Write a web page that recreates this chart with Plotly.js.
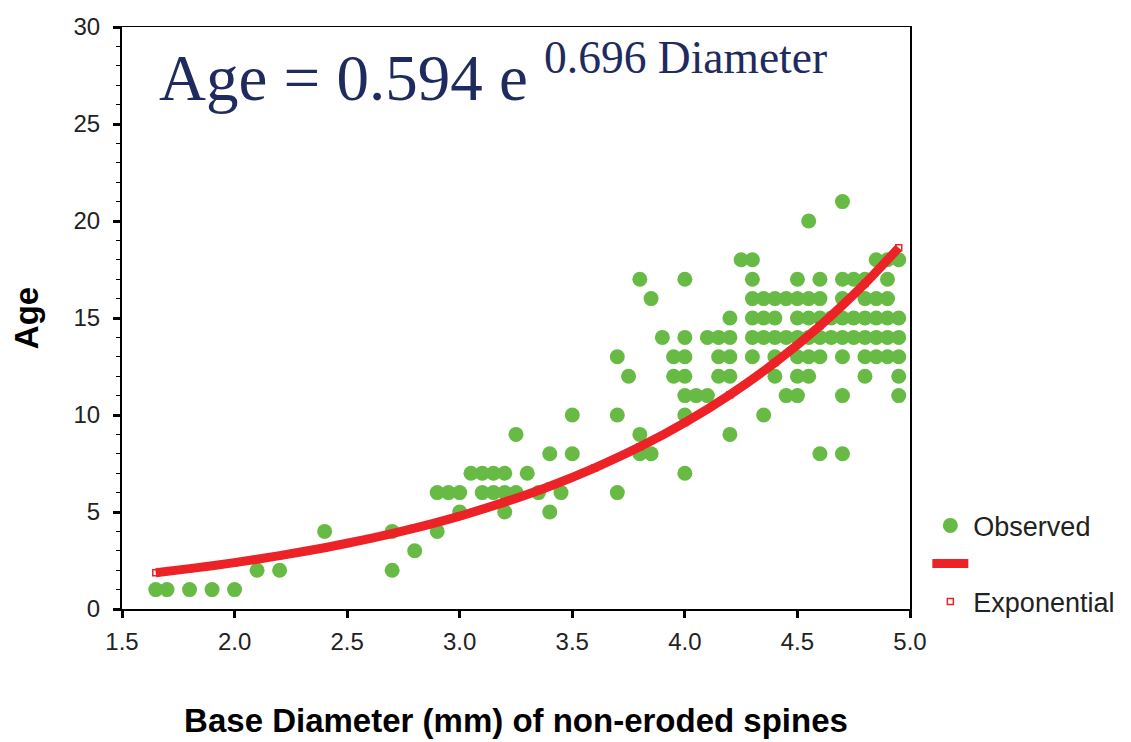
<!DOCTYPE html>
<html>
<head>
<meta charset="utf-8">
<script src="https://cdn.plot.ly/plotly-3.0.1.min.js"></script>
<style>
html,body{margin:0;padding:0;background:#ffffff;}
#chart{width:1131px;height:742px;}
</style>
</head>
<body>
<div id="chart"></div>
<script>
// Observed points: base diameter (mm) and age, listed row by row (by age)
const obsDiameter = [
  1.65, 1.70, 1.80, 1.90, 2.00,
  2.10, 2.20, 2.70,
  2.80,
  2.40, 2.70, 2.90,
  3.00, 3.20, 3.40,
  2.90, 2.95, 3.00, 3.10, 3.15, 3.20, 3.25, 3.35, 3.45, 3.70,
  3.05, 3.10, 3.15, 3.20, 3.30, 4.00,
  3.40, 3.50, 3.80, 3.85, 4.60, 4.70,
  3.25, 3.80, 4.20,
  3.50, 3.70, 4.00, 4.35,
  4.00, 4.05, 4.10, 4.45, 4.50, 4.70, 4.95,
  3.75, 3.95, 4.00, 4.15, 4.20, 4.40, 4.50, 4.55, 4.80, 4.95,
  3.70, 3.95, 4.00, 4.15, 4.20, 4.30, 4.40, 4.50, 4.55, 4.60, 4.70, 4.80, 4.85, 4.90, 4.95,
  3.90, 4.00, 4.10, 4.15, 4.20, 4.30, 4.35, 4.40, 4.45, 4.50, 4.55, 4.60, 4.65, 4.70, 4.75, 4.80, 4.85, 4.90, 4.95,
  4.20, 4.30, 4.35, 4.40, 4.50, 4.55, 4.60, 4.65, 4.70, 4.75, 4.80, 4.85, 4.90, 4.95,
  3.85, 4.30, 4.35, 4.40, 4.45, 4.50, 4.55, 4.60, 4.70, 4.80, 4.85, 4.90,
  3.80, 4.00, 4.30, 4.50, 4.60, 4.70, 4.75, 4.80, 4.90,
  4.25, 4.30, 4.85, 4.90, 4.95,
  4.55,
  4.70
];
const obsAge = [
  1, 1, 1, 1, 1,
  2, 2, 2,
  3,
  4, 4, 4,
  5, 5, 5,
  6, 6, 6, 6, 6, 6, 6, 6, 6, 6,
  7, 7, 7, 7, 7, 7,
  8, 8, 8, 8, 8, 8,
  9, 9, 9,
  10, 10, 10, 10,
  11, 11, 11, 11, 11, 11, 11,
  12, 12, 12, 12, 12, 12, 12, 12, 12, 12,
  13, 13, 13, 13, 13, 13, 13, 13, 13, 13, 13, 13, 13, 13, 13,
  14, 14, 14, 14, 14, 14, 14, 14, 14, 14, 14, 14, 14, 14, 14, 14, 14, 14, 14,
  15, 15, 15, 15, 15, 15, 15, 15, 15, 15, 15, 15, 15, 15,
  16, 16, 16, 16, 16, 16, 16, 16, 16, 16, 16, 16,
  17, 17, 17, 17, 17, 17, 17, 17, 17,
  18, 18, 18, 18, 18,
  20,
  21
];

// Fitted exponential curve
const fitDiameter = [1.65, 1.80, 2.00, 2.20, 2.40, 2.60, 2.80, 3.00, 3.20, 3.40, 3.60, 3.80, 4.00, 4.20, 4.40, 4.60, 4.80, 4.95];
const fitAge      = [1.87, 2.08, 2.39, 2.75, 3.16, 3.63, 4.17, 4.79, 5.51, 6.33, 7.28, 8.36, 9.61, 11.05, 12.70, 14.60, 16.78, 18.62];

// Axis ticks
const xTicks = [1.5, 2.0, 2.5, 3.0, 3.5, 4.0, 4.5, 5.0];
const xTickLabels = ['1.5', '2.0', '2.5', '3.0', '3.5', '4.0', '4.5', '5.0'];
const yTicks = [0, 5, 10, 15, 20, 25, 30];
const yTickLabels = ['0', '5', '10', '15', '20', '25', '30'];

const seriesNames = ['Observed', ' ', 'Exponential'];
const equationText = 'Age = 0.594 e <sup>0.696 Diameter</sup>';
const xTitle = 'Base Diameter (mm) of non-eroded spines';
const yTitle = 'Age';

const GREEN = '#67bb45';
const RED = '#ec2227';
const SANS = '"Liberation Sans", Arial, sans-serif';

const traces = [
  {
    type: 'scatter', mode: 'markers', name: seriesNames[0],
    x: obsDiameter, y: obsAge,
    marker: {color: GREEN, size: 15, line: {width: 0}},
    legendrank: 1, cliponaxis: false
  },
  {
    type: 'scatter', mode: 'markers', name: seriesNames[2],
    x: fitDiameter, y: fitAge,
    marker: {symbol: 'square-open', color: RED, size: 6, line: {width: 1.5, color: RED}},
    legendrank: 3
  },
  {
    type: 'scatter', mode: 'lines', name: seriesNames[1],
    x: fitDiameter, y: fitAge,
    line: {color: RED, width: 9, shape: 'spline', smoothing: 0.6},
    legendrank: 2
  }
];

const layout = {
  width: 1131, height: 742,
  margin: {l: 122, r: 221, t: 27, b: 133, autoexpand: false},
  paper_bgcolor: '#ffffff', plot_bgcolor: '#ffffff',
  font: {family: SANS, color: '#222222'},
  showlegend: true,
  legend: {
    x: 1.022, xanchor: 'left', y: 0.185, yanchor: 'top',
    font: {family: SANS, size: 27, color: '#222222'},
    bgcolor: 'rgba(0,0,0,0)', borderwidth: 0,
    tracegroupgap: 0, itemwidth: 36
  },
  xaxis: {
    range: [1.5, 5.0], tickvals: xTicks, ticktext: xTickLabels,
    showgrid: false, zeroline: false,
    showline: true, linecolor: '#000000', linewidth: 1.5, mirror: true,
    ticks: 'outside', ticklen: 7, tickwidth: 3, tickcolor: '#000000',
    tickfont: {family: SANS, size: 24, color: '#222222'},
    ticklabelstandoff: 4,
    title: {text: xTitle, font: {family: SANS, size: 33, color: '#000000', weight: 'bold'}, standoff: 54}
  },
  yaxis: {
    range: [0, 30], tickvals: yTicks, ticktext: yTickLabels,
    showgrid: false, zeroline: false,
    showline: true, linecolor: '#000000', linewidth: 2, mirror: true,
    ticks: 'outside', ticklen: 7, tickwidth: 3, tickcolor: '#000000',
    minor: {dtick: 1, ticks: 'outside', ticklen: 4, tickwidth: 1, tickcolor: '#000000', showgrid: false},
    tickfont: {family: SANS, size: 24, color: '#222222'},
    ticklabelstandoff: 8,
    title: {text: yTitle, font: {family: SANS, size: 33, color: '#000000', weight: 'bold'}, standoff: 25}
  },
  annotations: [
    {
      xref: 'paper', yref: 'paper', x: 0.045, y: 0.994, xanchor: 'left', yanchor: 'top',
      text: equationText, showarrow: false,
      font: {family: '"Liberation Serif", "Times New Roman", serif', size: 65, color: '#1f2a5e'}
    }
  ]
};

Plotly.newPlot('chart', traces, layout, {displayModeBar: false, staticPlot: true});
</script>
</body>
</html>
